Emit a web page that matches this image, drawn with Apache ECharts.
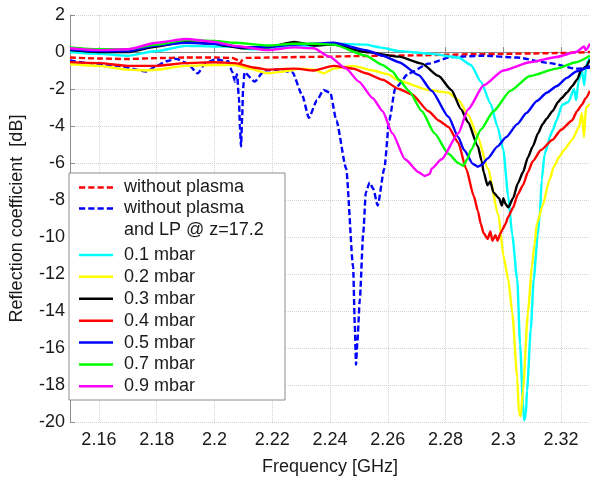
<!DOCTYPE html>
<html>
<head>
<meta charset="utf-8">
<script src="https://cdn.jsdelivr.net/npm/echarts@6/dist/echarts.min.js"></script>
<style>
  html, body { margin: 0; padding: 0; background: #fff; }
  #chart { width: 590px; height: 481px; }
</style>
</head>
<body>
<div id="chart"></div>
<script>
// Frequency ticks (GHz)
const freqTicks = [2.16, 2.18, 2.2, 2.22, 2.24, 2.26, 2.28, 2.3, 2.32];

// [frequency GHz, reflection dB]
const noPlasma = [[2.15,-0.3],[2.16,-0.35],[2.17,-0.38],[2.18,-0.33],[2.19,-0.3],[2.2,-0.3],[2.206,-0.32],[2.2085,-0.45],[2.209,-0.6],[2.2095,-0.45],[2.211,-0.32],[2.22,-0.3],[2.23,-0.27],[2.24,-0.25],[2.25,-0.22],[2.26,-0.2],[2.27,-0.18],[2.28,-0.15],[2.29,-0.12],[2.3,-0.1],[2.31,-0.08],[2.32,-0.05],[2.33,0.0]];

const noPlasmaLP = [[2.15,-0.45],[2.1561,-0.6],[2.1663,-0.75],[2.1765,-1.05],[2.18,-0.75],[2.1833,-0.5],[2.1867,-0.37],[2.1905,-0.6],[2.1942,-1.15],[2.1969,-0.6],[2.2003,-0.4],[2.2048,-0.5],[2.2061,-1.05],[2.2071,-1.6],[2.2078,-1.2],[2.2085,-2.5],[2.2088,-4.0],[2.2092,-5.1],[2.2096,-3.5],[2.2099,-2.0],[2.2104,-1.1],[2.2139,-1.6],[2.2173,-1.0],[2.222,-0.95],[2.227,-1.1],[2.2303,-2.3],[2.2327,-3.55],[2.2355,-2.6],[2.2378,-2.05],[2.2401,-2.2],[2.2422,-3.7],[2.2456,-6.3],[2.248,-11.6],[2.2486,-14.8],[2.249,-16.9],[2.2495,-15.6],[2.2503,-13.4],[2.2515,-9.8],[2.2524,-7.6],[2.2537,-7.05],[2.255,-7.4],[2.2565,-8.3],[2.2588,-6.3],[2.2605,-3.7],[2.2626,-1.95],[2.2673,-1.15],[2.2741,-0.63],[2.282,-0.27],[2.2932,-0.2],[2.3048,-0.3],[2.316,-0.6],[2.3252,-0.9],[2.33,-0.85]];

const p01 = [[2.15,0.0],[2.16,-0.1],[2.17,-0.2],[2.18,0.05],[2.19,0.33],[2.2,0.3],[2.207,0.28],[2.213,0.15],[2.22,0.2],[2.228,0.35],[2.235,0.35],[2.2412,0.45],[2.2524,0.4],[2.2571,0.25],[2.2639,0.05],[2.2752,-0.1],[2.2844,-0.3],[2.2888,-0.7],[2.2922,-1.6],[2.2956,-2.8],[2.298,-4.05],[2.3,-5.3],[2.3017,-7.8],[2.3031,-9.9],[2.3048,-12.3],[2.3058,-15.8],[2.3068,-19.0],[2.3072,-19.9],[2.3078,-19.6],[2.3082,-18.3],[2.3095,-15.0],[2.3105,-12.3],[2.3119,-9.9],[2.3126,-8.8],[2.3133,-6.9],[2.3143,-5.5],[2.3155,-5.0],[2.316,-4.6],[2.3172,-4.2],[2.3184,-3.7],[2.3204,-2.85],[2.3225,-2.7],[2.3245,-2.0],[2.3252,-2.6],[2.326,-1.6],[2.3272,-1.0],[2.328,-1.8],[2.3288,-0.6],[2.33,-0.3]];

const p02 = [[2.15,-0.65],[2.16,-0.75],[2.17,-0.95],[2.1765,-1.0],[2.18,-0.95],[2.19,-0.75],[2.2,-0.7],[2.207,-0.7],[2.212,-0.9],[2.2184,-1.15],[2.224,-1.05],[2.23,-0.9],[2.2344,-0.95],[2.2378,-1.15],[2.2412,-0.9],[2.248,-0.75],[2.2548,-1.0],[2.26,-1.2],[2.2639,-1.55],[2.2741,-2.05],[2.281,-2.2],[2.2845,-2.6],[2.2878,-3.4],[2.2912,-4.6],[2.2946,-6.3],[2.2983,-8.8],[2.3,-11],[2.3017,-12.3],[2.3031,-14.1],[2.3048,-17.6],[2.3054,-19.5],[2.306,-19.7],[2.3068,-18.3],[2.3085,-14.1],[2.3099,-11.6],[2.3108,-10.4],[2.3116,-9.3],[2.3136,-8.3],[2.316,-6.9],[2.3175,-6.2],[2.3194,-5.65],[2.321,-5.3],[2.3238,-4.75],[2.3262,-4.05],[2.3272,-3.3],[2.3279,-4.6],[2.3286,-3.0],[2.33,-2.8]];

const p03 = [[2.15,0.1],[2.16,0.0],[2.17,0.0],[2.18,0.3],[2.19,0.55],[2.2,0.45],[2.2037,0.33],[2.21,0.2],[2.2184,0.25],[2.2276,0.55],[2.2344,0.35],[2.2412,0.4],[2.2524,0.0],[2.2639,-0.25],[2.2718,-0.63],[2.2776,-1.3],[2.282,-2.05],[2.2854,-3.1],[2.2878,-3.8],[2.2912,-5.1],[2.2925,-5.9],[2.2932,-6.5],[2.2945,-7.2],[2.2955,-7.0],[2.2966,-7.6],[2.2985,-7.9],[2.2995,-8.3],[2.3,-7.9],[2.3007,-8.2],[2.3017,-8.4],[2.3034,-7.9],[2.305,-7.1],[2.3068,-6.5],[2.3085,-5.7],[2.3102,-5.1],[2.312,-4.4],[2.3136,-3.9],[2.315,-3.6],[2.317,-3.2],[2.319,-2.7],[2.3201,-2.5],[2.322,-2.2],[2.3238,-1.85],[2.3255,-1.5],[2.3269,-1.0],[2.3285,-0.8],[2.33,-0.4]];

const p04 = [[2.15,-0.55],[2.16,-0.6],[2.17,-0.75],[2.18,-0.75],[2.19,-0.6],[2.2,-0.55],[2.207,-0.6],[2.214,-0.85],[2.2184,-0.95],[2.228,-0.9],[2.2344,-1.0],[2.2412,-0.75],[2.248,-0.9],[2.2524,-1.15],[2.2582,-1.5],[2.2639,-2.0],[2.2684,-2.3],[2.2741,-3.2],[2.2776,-3.7],[2.281,-4.05],[2.2844,-4.9],[2.2871,-6.3],[2.2898,-7.8],[2.2912,-8.6],[2.2922,-9.3],[2.2932,-9.8],[2.2946,-10.1],[2.2955,-9.7],[2.2962,-10.2],[2.2973,-9.9],[2.298,-10.2],[2.299,-9.8],[2.2997,-9.6],[2.3007,-9.3],[2.3017,-8.9],[2.3034,-8.4],[2.305,-7.7],[2.3068,-7.2],[2.3085,-6.5],[2.3102,-5.9],[2.313,-5.3],[2.317,-4.75],[2.32,-4.2],[2.3238,-3.7],[2.3255,-3.2],[2.3272,-2.85],[2.3285,-2.5],[2.33,-2.1]];

const p05 = [[2.15,0.15],[2.16,0.05],[2.17,0.05],[2.18,0.35],[2.19,0.5],[2.2,0.45],[2.21,0.25],[2.22,0.3],[2.2276,0.4],[2.2344,0.45],[2.2412,0.5],[2.2524,0.1],[2.2582,-0.2],[2.2639,-0.55],[2.2707,-1.25],[2.2752,-2.1],[2.281,-3.5],[2.2844,-4.6],[2.2864,-5.3],[2.2895,-6.05],[2.2912,-6.2],[2.2925,-6.1],[2.2946,-5.75],[2.298,-5.1],[2.301,-4.6],[2.3048,-3.9],[2.308,-3.3],[2.3116,-2.65],[2.315,-2.2],[2.3184,-1.85],[2.322,-1.4],[2.3252,-1.05],[2.33,-0.75]];

const p07 = [[2.15,0.25],[2.16,0.15],[2.17,0.15],[2.18,0.4],[2.19,0.65],[2.2,0.6],[2.2071,0.5],[2.2184,0.35],[2.2276,0.45],[2.2344,0.45],[2.2412,0.4],[2.2524,-0.2],[2.2582,-0.7],[2.2616,-1.05],[2.2639,-1.5],[2.2673,-2.1],[2.2718,-3.2],[2.2762,-4.4],[2.281,-5.5],[2.2844,-6.0],[2.2861,-6.15],[2.2875,-5.8],[2.2888,-5.3],[2.2922,-4.2],[2.2966,-3.2],[2.3024,-2.1],[2.3092,-1.3],[2.3184,-0.9],[2.3252,-0.55],[2.33,-0.2]];

const p09 = [[2.15,0.2],[2.16,0.1],[2.17,0.15],[2.18,0.5],[2.19,0.7],[2.2,0.55],[2.2071,0.33],[2.2184,0.1],[2.2276,0.25],[2.2344,0.2],[2.2398,-0.25],[2.2456,-0.9],[2.25,-1.6],[2.2548,-2.5],[2.2582,-3.2],[2.2616,-4.4],[2.266,-5.8],[2.2707,-6.5],[2.2728,-6.7],[2.2745,-6.6],[2.2752,-6.3],[2.2786,-5.8],[2.2844,-4.4],[2.2878,-3.1],[2.2932,-1.8],[2.3,-1.0],[2.3092,-0.55],[2.3184,-0.27],[2.3252,0.0],[2.328,0.3],[2.3285,0.1],[2.33,0.45]];

const FONT = '"Liberation Sans", Arial, sans-serif';
const TEXT = '#1a1a1a';
const AXIS = '#8c8c8c';

// legend keys: a plain bar for solid traces, a run of short bars for dashed ones
const SOLID_KEY = 'path://M0,0H34V2.5H0Z';
const DASH_KEY = 'path://M0,0h6v2.5h-6z M9,0h6v2.5h-6z M18,0h6v2.5h-6z M27,0h6v2.5h-6z';

function line(name, data, color, dashed) {
  return {
    name: name,
    type: 'line',
    data: data,
    showSymbol: false,
    symbol: 'none',
    smooth: 0.2,
    smoothMonotone: 'x',
    lineStyle: { color: color, width: 2.4, type: dashed ? [6, 3] : 'solid' },
    itemStyle: { color: color },
    emphasis: { disabled: true },
    silent: true
  };
}

const LP_NAME = 'without plasma and LP @ z=17.2';
const pressureNames = ['0.1 mbar', '0.2 mbar', '0.3 mbar', '0.4 mbar', '0.5 mbar', '0.7 mbar', '0.9 mbar'];

const chart = echarts.init(document.getElementById('chart'), null, { renderer: 'canvas' });
chart.setOption({
  animation: false,
  backgroundColor: '#fff',
  textStyle: { fontFamily: FONT },
  grid: { left: 62, right: 0, top: 15, bottom: 49 },
  xAxis: {
    type: 'value', min: 2.15, max: 2.33,
    name: 'Frequency [GHz]', nameLocation: 'middle', nameGap: 36,
    nameTextStyle: { fontSize: 18, color: TEXT, fontFamily: FONT },
    axisLine: { show: true, lineStyle: { color: AXIS, width: 1 } },
    axisTick: { show: true, inside: true, length: 5, customValues: freqTicks, lineStyle: { color: AXIS } },
    axisLabel: { customValues: freqTicks, fontSize: 18, color: TEXT, margin: 9, fontFamily: FONT,
      formatter: v => String(+(+v).toFixed(2)) },
    splitLine: { show: true, lineStyle: { color: '#d2d2d2', type: 'dotted', width: 1 } }
  },
  yAxis: {
    type: 'value', min: -20, max: 2, interval: 2,
    name: 'Reflection coefficient  [dB]', nameLocation: 'middle', nameGap: 44,
    nameTextStyle: { fontSize: 18, color: TEXT, fontFamily: FONT },
    axisLine: { show: true, lineStyle: { color: AXIS, width: 1 } },
    axisTick: { show: true, inside: true, length: 5, lineStyle: { color: AXIS } },
    axisLabel: { fontSize: 18, color: TEXT, margin: 5, fontFamily: FONT },
    splitLine: { show: true, lineStyle: { color: '#d2d2d2', type: 'dotted', width: 1 } }
  },
  graphic: [
    { type: 'rect', z: 3, shape: { x: 69, y: 173, width: 216, height: 227 },
      style: { fill: '#fff', stroke: AXIS, lineWidth: 1 } },
    { type: 'text', z: 5, x: 124, y: 230,
      style: { text: 'and LP @ z=17.2', fill: TEXT, font: '18px ' + FONT, verticalAlign: 'middle' } }
  ],
  legend: [
    {
      data: [
        { name: 'without plasma', icon: DASH_KEY },
        { name: LP_NAME, icon: DASH_KEY }
      ],
      orient: 'vertical', left: 79, top: 177,
      itemWidth: 34, itemHeight: 10, itemGap: 0, padding: 0, selectedMode: false, z: 5,
      formatter: n => n === LP_NAME ? 'without plasma' : n,
      textStyle: { fontSize: 18, lineHeight: 21, color: TEXT, fontFamily: FONT, padding: [0, 0, 0, 6] }
    },
    {
      data: pressureNames.map(n => ({ name: n, icon: SOLID_KEY })),
      orient: 'vertical', left: 79, top: 244,
      itemWidth: 34, itemHeight: 10, itemGap: 0, padding: 0, selectedMode: false, z: 5,
      textStyle: { fontSize: 18, lineHeight: 21.9, color: TEXT, fontFamily: FONT, padding: [0, 0, 0, 6] }
    }
  ],
  series: [
    line('without plasma', noPlasma, '#ff0000', true),
    line(LP_NAME, noPlasmaLP, '#0000ff', true),
    line('0.1 mbar', p01, '#00ffff', false),
    line('0.2 mbar', p02, '#ffff00', false),
    line('0.3 mbar', p03, '#000000', false),
    line('0.4 mbar', p04, '#ff0000', false),
    line('0.5 mbar', p05, '#0000ff', false),
    line('0.7 mbar', p07, '#00ff00', false),
    line('0.9 mbar', p09, '#ff00ff', false)
  ]
});
</script>
</body>
</html>
